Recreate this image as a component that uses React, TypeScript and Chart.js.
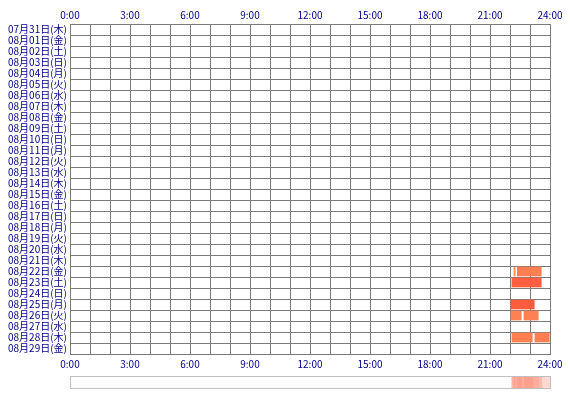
import React, { useEffect, useRef } from "react";
import { Chart, registerables } from "chart.js";
Chart.register(...registerables);

const dayLabels = [
  "07月31日(木)", "08月01日(金)", "08月02日(土)", "08月03日(日)", "08月04日(月)",
  "08月05日(火)", "08月06日(水)", "08月07日(木)", "08月08日(金)", "08月09日(土)",
  "08月10日(日)", "08月11日(月)", "08月12日(火)", "08月13日(水)", "08月14日(木)",
  "08月15日(金)", "08月16日(土)", "08月17日(日)", "08月18日(月)", "08月19日(火)",
  "08月20日(水)", "08月21日(木)", "08月22日(金)", "08月23日(土)", "08月24日(日)",
  "08月25日(月)", "08月26日(火)", "08月27日(水)", "08月28日(木)", "08月29日(金)",
];

const timeLabels = ["0:00", "3:00", "6:00", "9:00", "12:00", "15:00", "18:00", "21:00", "24:00"];

// activity segments (hours)
const segDates = [
  "08月22日(金)", "08月22日(金)", "08月23日(土)", "08月25日(月)",
  "08月26日(火)", "08月26日(火)", "08月28日(木)", "08月28日(木)",
];
const segStart = [22.18, 22.35, 22.08, 22.03, 22.03, 22.68, 22.08, 23.23];
const segEnd = [22.27, 23.58, 23.58, 23.23, 22.58, 23.43, 23.13, 23.98];
const segColors = [
  "#FF8A55", "#FF7F50", "#FF5F40", "#FF5C3E",
  "#FF8052", "#FF8052", "#FF7F50", "#FF7F50",
];

const stripPlugin = {
  id: "strip",
  afterDraw(chart: any) {
    const ctx = chart.ctx;
    const xs = chart.scales.x;
    const x0 = xs.getPixelForValue(0);
    const x1 = xs.getPixelForValue(24);
    const top = 376;
    const h = 12;
    ctx.save();
    ctx.fillStyle = "#ffffff";
    ctx.fillRect(x0, top, x1 - x0, h);
    const step = 0.05;
    for (let t = 0; t < 24; t += step) {
      const c = t + step / 2;
      let n = 0;
      for (let i = 0; i < segStart.length; i++) {
        if (c >= segStart[i] && c < segEnd[i]) n++;
      }
      if (n > 0) {
        const a = Math.min(0.55, 0.1 + 0.085 * n);
        ctx.fillStyle = `rgba(255,96,64,${a})`;
        const px0 = xs.getPixelForValue(t);
        const px1 = xs.getPixelForValue(t + step);
        ctx.fillRect(px0, top, px1 - px0 + 0.3, h);
      }
    }
    ctx.strokeStyle = "#c0c0c0";
    ctx.lineWidth = 1;
    ctx.strokeRect(Math.round(x0) + 0.5, top + 0.5, Math.round(x1 - x0), h);
    ctx.restore();
  },
};

export default function App() {
  const ref = useRef<HTMLCanvasElement>(null);
  useEffect(() => {
    if (!ref.current) return;
    const font = { family: '"Noto Sans CJK JP", sans-serif', size: 10 };
    const chart = new Chart(ref.current, {
      type: "bar",
      data: {
        labels: dayLabels,
        datasets: [
          {
            data: segDates.map((d, i) => ({ x: [segStart[i], segEnd[i]], y: d })) as any,
            backgroundColor: segColors,
            borderWidth: 0,
            barPercentage: 0.88,
            categoryPercentage: 1,
            grouped: false,
          } as any,
        ],
      },
      options: {
        indexAxis: "y",
        animation: false,
        responsive: false,
        layout: { padding: { left: 8, right: 20, top: 0, bottom: 0 } },
        plugins: { legend: { display: false }, tooltip: { enabled: false } },
        scales: {
          x: {
            type: "linear",
            position: "bottom",
            min: 0,
            max: 24,
            afterFit: (s: any) => { s.height = 46; },
            ticks: {
              stepSize: 1,
              autoSkip: false,
              maxRotation: 0,
              minRotation: 0,
              padding: 4,
              color: "#000080",
              font,
              callback: (v: any) => (v % 3 === 0 ? timeLabels[v / 3] : ""),
            },
            grid: { color: "#7a7a7a", drawTicks: false },
            border: { color: "#7a7a7a" },
          },
          x2: {
            type: "linear",
            position: "top",
            min: 0,
            max: 24,
            afterFit: (s: any) => { s.height = 24; },
            ticks: {
              stepSize: 1,
              autoSkip: false,
              maxRotation: 0,
              minRotation: 0,
              padding: -5,
              color: "#000080",
              font,
              callback: (v: any) => (v % 3 === 0 ? timeLabels[v / 3] : ""),
            },
            grid: { display: false },
            border: { color: "#7a7a7a" },
          },
          y: {
            type: "category",
            position: "left",
            afterFit: (s: any) => { s.width = 62; },
            ticks: {
              autoSkip: false,
              crossAlign: "far",
              padding: 2,
              color: "#000080",
              font,
            },
            grid: { color: "#7a7a7a", drawTicks: false, offset: true },
            border: { color: "#7a7a7a" },
          },
        },
      } as any,
      plugins: [stripPlugin],
    });
    return () => chart.destroy();
  }, []);
  return (
    <div style={{ position: "fixed", left: 0, top: 0, width: 570, height: 400, background: "#fff" }}>
      <canvas ref={ref} width={570} height={400} style={{ width: 570, height: 400 }} />
    </div>
  );
}
